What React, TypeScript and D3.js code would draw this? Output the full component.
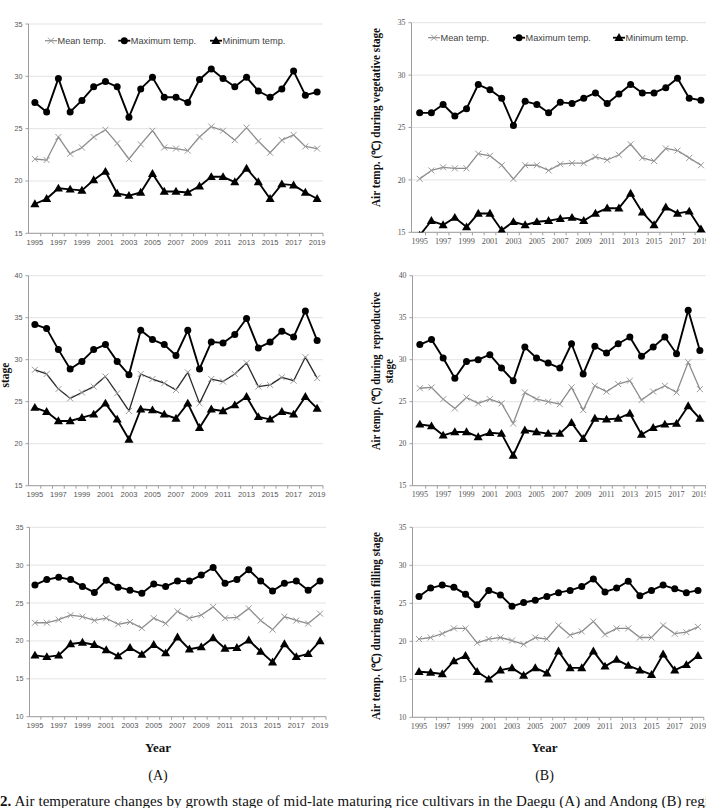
import React from 'react';
import * as d3 from 'd3';

const YEARS = [1995, 1996, 1997, 1998, 1999, 2000, 2001, 2002, 2003, 2004, 2005, 2006, 2007, 2008, 2009, 2010, 2011, 2012, 2013, 2014, 2015, 2016, 2017, 2018, 2019];
const YEAR_TICKS = [1995, 1997, 1999, 2001, 2003, 2005, 2007, 2009, 2011, 2013, 2015, 2017, 2019];

// Daegu (A)
const DAEGU_VEG_MEAN = [22.1, 22.0, 24.2, 22.6, 23.2, 24.2, 24.9, 23.6, 22.1, 23.5, 24.8, 23.2, 23.1, 22.9, 24.2, 25.2, 24.8, 23.9, 25.1, 23.8, 22.7, 23.9, 24.4, 23.3, 23.1];
const DAEGU_VEG_MAX = [27.5, 26.6, 29.8, 26.6, 27.7, 29.0, 29.5, 29.0, 26.1, 28.8, 29.9, 28.0, 28.0, 27.5, 29.7, 30.7, 29.8, 29.0, 29.9, 28.6, 28.0, 28.8, 30.5, 28.2, 28.5];
const DAEGU_VEG_MIN = [17.8, 18.3, 19.3, 19.2, 19.1, 20.1, 20.9, 18.8, 18.6, 18.9, 20.7, 19.0, 19.0, 18.9, 19.5, 20.4, 20.4, 19.9, 21.2, 19.9, 18.3, 19.7, 19.6, 18.9, 18.3];

const DAEGU_REP_MEAN = [28.8, 28.3, 26.5, 25.4, 26.1, 26.8, 28.0, 26.0, 23.9, 28.3, 27.7, 27.2, 26.4, 28.5, 24.8, 27.7, 27.4, 28.3, 29.6, 26.8, 27.0, 27.9, 27.5, 30.3, 27.8];
const DAEGU_REP_MAX = [34.2, 33.7, 31.2, 28.9, 29.8, 31.2, 31.8, 29.8, 28.2, 33.5, 32.4, 31.8, 30.5, 33.5, 28.9, 32.1, 32.0, 33.0, 34.9, 31.4, 32.1, 33.4, 32.7, 35.8, 32.3];
const DAEGU_REP_MIN = [24.3, 23.8, 22.7, 22.7, 23.1, 23.5, 24.8, 22.9, 20.5, 24.1, 24.0, 23.5, 23.0, 24.8, 21.9, 24.1, 23.9, 24.6, 25.6, 23.2, 22.9, 23.8, 23.5, 25.6, 24.2];

const DAEGU_GF_MEAN = [22.4, 22.4, 22.8, 23.4, 23.2, 22.7, 23.0, 22.2, 22.5, 21.7, 23.0, 22.3, 23.9, 23.0, 23.4, 24.5, 23.0, 23.1, 24.3, 22.7, 21.5, 23.2, 22.7, 22.3, 23.6];
const DAEGU_GF_MAX = [27.4, 28.1, 28.4, 28.1, 27.2, 26.4, 28.0, 27.1, 26.7, 26.3, 27.5, 27.2, 27.9, 27.9, 28.7, 29.7, 27.6, 28.1, 29.4, 27.9, 26.6, 27.6, 27.9, 26.7, 27.9];
const DAEGU_GF_MIN = [18.1, 17.9, 18.1, 19.6, 19.8, 19.5, 18.8, 18.0, 19.1, 18.2, 19.5, 18.4, 20.5, 18.9, 19.2, 20.4, 19.0, 19.1, 20.1, 18.6, 17.2, 19.6, 17.9, 18.3, 20.0];

// Andong (B)
const ANDONG_VEG_MEAN = [20.1, 20.9, 21.2, 21.1, 21.1, 22.5, 22.3, 21.4, 20.1, 21.4, 21.4, 20.9, 21.5, 21.6, 21.6, 22.2, 21.9, 22.4, 23.4, 22.1, 21.8, 23.0, 22.8, 22.1, 21.4];
const ANDONG_VEG_MAX = [26.4, 26.4, 27.2, 26.1, 26.8, 29.1, 28.6, 27.8, 25.2, 27.5, 27.2, 26.4, 27.4, 27.3, 27.8, 28.3, 27.3, 28.2, 29.1, 28.3, 28.3, 28.8, 29.7, 27.8, 27.6];
const ANDONG_VEG_MIN = [14.7, 16.1, 15.7, 16.4, 15.5, 16.8, 16.8, 15.2, 16.0, 15.7, 16.0, 16.1, 16.3, 16.4, 16.1, 16.8, 17.3, 17.3, 18.7, 16.9, 15.7, 17.4, 16.8, 17.0, 15.3];

const ANDONG_REP_MEAN = [26.6, 26.7, 25.3, 24.2, 25.5, 24.8, 25.3, 24.8, 22.4, 26.1, 25.3, 25.0, 24.7, 26.7, 24.0, 26.9, 26.2, 27.1, 27.5, 25.2, 26.2, 26.9, 26.1, 29.7, 26.5];
const ANDONG_REP_MAX = [31.8, 32.4, 30.2, 27.8, 29.8, 30.0, 30.6, 29.0, 27.5, 31.5, 30.2, 29.6, 29.0, 31.9, 28.3, 31.6, 30.8, 31.9, 32.7, 30.4, 31.5, 32.7, 30.7, 35.9, 31.1];
const ANDONG_REP_MIN = [22.3, 22.1, 21.0, 21.4, 21.4, 20.8, 21.3, 21.2, 18.6, 21.6, 21.4, 21.2, 21.2, 22.5, 20.6, 23.0, 22.9, 23.0, 23.6, 21.1, 21.9, 22.3, 22.4, 24.5, 23.0];

const ANDONG_GF_MEAN = [20.3, 20.5, 21.0, 21.7, 21.7, 19.8, 20.3, 20.5, 20.1, 19.6, 20.5, 20.3, 22.1, 20.8, 21.3, 22.6, 20.9, 21.7, 21.7, 20.5, 20.5, 22.1, 21.0, 21.2, 21.9];
const ANDONG_GF_MAX = [25.9, 27.0, 27.4, 27.1, 26.2, 24.8, 26.7, 26.1, 24.6, 25.1, 25.4, 25.9, 26.4, 26.7, 27.2, 28.2, 26.5, 27.0, 27.9, 26.0, 26.7, 27.4, 26.9, 26.4, 26.7];
const ANDONG_GF_MIN = [16.0, 15.9, 15.7, 17.4, 18.1, 16.0, 15.0, 16.2, 16.5, 15.5, 16.5, 15.8, 18.7, 16.5, 16.5, 18.7, 16.7, 17.6, 16.8, 16.2, 15.6, 18.3, 16.2, 16.9, 18.1];

const LEGEND_LABELS = ['Mean temp.', 'Maximum temp.', 'Minimum temp.'];
const CAPTION_NUM = '2.';
const CAPTION_TEXT = ' Air temperature changes by growth stage of mid-late maturing rice cultivars in the Daegu (A) and Andong (B) regions.';

type Legend = { y: number; xs: number[] };
type Title = { lines: string[]; x: number; y: number; length: number[] };

interface PanelSpec {
  id: string;
  mean: number[];
  max: number[];
  min: number[];
  yDomain: [number, number];
  yTicks: number[];
  axisX: number;
  bandStart: number;
  bandEnd: number;
  yTop: number;
  yBottom: number;
  serif: boolean;
  meanLine: string;
  legend?: Legend;
  title?: Title;
}

const PANELS: PanelSpec[] = [
  {
    id: 'a1', mean: DAEGU_VEG_MEAN, max: DAEGU_VEG_MAX, min: DAEGU_VEG_MIN,
    yDomain: [15, 35], yTicks: [15, 20, 25, 30, 35],
    axisX: 28.5, bandStart: 29, bandEnd: 323, yTop: 24, yBottom: 233.3,
    serif: false, meanLine: '#8c8c8c',
    legend: { y: 40.7, xs: [45, 118.3, 210] },
  },
  {
    id: 'a2', mean: DAEGU_REP_MEAN, max: DAEGU_REP_MAX, min: DAEGU_REP_MIN,
    yDomain: [15, 40], yTicks: [15, 20, 25, 30, 35, 40],
    axisX: 28.5, bandStart: 29, bandEnd: 323, yTop: 275.7, yBottom: 485.7,
    serif: false, meanLine: '#2a2a2a',
  },
  {
    id: 'a3', mean: DAEGU_GF_MEAN, max: DAEGU_GF_MAX, min: DAEGU_GF_MIN,
    yDomain: [10, 35], yTicks: [10, 15, 20, 25, 30, 35],
    axisX: 29.5, bandStart: 29, bandEnd: 326, yTop: 527.3, yBottom: 716.7,
    serif: false, meanLine: '#8c8c8c',
  },
  {
    id: 'b1', mean: ANDONG_VEG_MEAN, max: ANDONG_VEG_MAX, min: ANDONG_VEG_MIN,
    yDomain: [15, 35], yTicks: [15, 20, 25, 30, 35],
    axisX: 411.5, bandStart: 413.8, bandEnd: 706.8, yTop: 22.7, yBottom: 232.3,
    serif: true, meanLine: '#8c8c8c',
    legend: { y: 37.7, xs: [428, 513, 613] },
    title: { lines: ['Air temp. (\u2103) during vegetative stage'], x: 376, y: 117.5, length: [179] },
  },
  {
    id: 'b2', mean: ANDONG_REP_MEAN, max: ANDONG_REP_MAX, min: ANDONG_REP_MIN,
    yDomain: [15, 40], yTicks: [15, 20, 25, 30, 35, 40],
    axisX: 412.5, bandStart: 414, bandEnd: 705.7, yTop: 275.7, yBottom: 485.7,
    serif: true, meanLine: '#8c8c8c',
    title: { lines: ['Air temp. (\u2103) during  reproductive', 'stage'], x: 376, y: 371, length: [158, 24] },
  },
  {
    id: 'b3', mean: ANDONG_GF_MEAN, max: ANDONG_GF_MAX, min: ANDONG_GF_MIN,
    yDomain: [10, 35], yTicks: [10, 15, 20, 25, 30, 35],
    axisX: 412.5, bandStart: 413.2, bandEnd: 703.8, yTop: 527.3, yBottom: 717.3,
    serif: true, meanLine: '#8c8c8c',
    title: { lines: ['Air temp. (\u2103) during grain filling stage'], x: 376, y: 626, length: [188] },
  },
];

const SANS = '"Liberation Sans", Arial, sans-serif';
const SERIF = '"Liberation Serif", "Times New Roman", serif';

const triangle = d3.symbol(d3.symbolTriangle, 36)() as string;

function Marker({ kind, x, y }: { kind: 'mean' | 'max' | 'min'; x: number; y: number }) {
  if (kind === 'max') return <circle cx={x} cy={y} r={3.5} fill="#000" />;
  if (kind === 'min') return <path d={triangle} transform={`translate(${x},${y + 0.6})`} fill="#000" />;
  const s = 3;
  return (
    <path
      d={`M${x - s},${y - s}L${x + s},${y + s}M${x - s},${y + s}L${x + s},${y - s}`}
      stroke="#9a9a9a"
      strokeWidth={1}
      fill="none"
    />
  );
}

function Panel({ p }: { p: PanelSpec }) {
  const x = d3.scaleBand<number>().domain(YEARS).range([p.bandStart, p.bandEnd]).padding(0);
  const cx = (yr: number) => (x(yr) as number) + x.bandwidth() / 2;
  const y = d3.scaleLinear().domain(p.yDomain).range([p.yBottom, p.yTop]);
  const line = d3
    .line<number>()
    .x((_, i) => cx(YEARS[i]))
    .y((v) => y(v));
  const tickFont = p.serif ? SERIF : SANS;
  const right = p.bandEnd;
  const clipId = `clip-${p.id}`;

  const series: { kind: 'mean' | 'max' | 'min'; values: number[]; color: string; width: number }[] = [
    { kind: 'mean', values: p.mean, color: p.meanLine, width: 1.3 },
    { kind: 'max', values: p.max, color: '#000', width: 1.9 },
    { kind: 'min', values: p.min, color: '#000', width: 1.9 },
  ];

  return (
    <g>
      <defs>
        <clipPath id={clipId}>
          <rect x={p.axisX} y={p.yTop - 12} width={right - p.axisX + 10} height={p.yBottom - p.yTop + 12.3} />
        </clipPath>
      </defs>
      {/* horizontal gridlines */}
      {p.yTicks.map((t) => (
        <line key={`g${t}`} x1={p.axisX} x2={right} y1={y(t)} y2={y(t)} stroke="#e3e3e3" strokeWidth={1} />
      ))}
      {/* y axis */}
      <line x1={p.axisX} x2={p.axisX} y1={p.yTop} y2={p.yBottom} stroke="#9e9e9e" strokeWidth={1} />
      {p.yTicks.map((t) => (
        <g key={`yt${t}`}>
          <line x1={p.axisX - 3} x2={p.axisX} y1={y(t)} y2={y(t)} stroke="#9e9e9e" />
          <text
            x={p.axisX - 6}
            y={y(t)}
            dy="0.35em"
            textAnchor="end"
            fontFamily={tickFont}
            fontSize={p.serif ? 7.8 : 7.2}
            fill="#555"
          >
            {t}
          </text>
        </g>
      ))}
      {/* x axis */}
      <line x1={p.axisX} x2={right} y1={p.yBottom} y2={p.yBottom} stroke="#9e9e9e" strokeWidth={1} />
      {YEARS.map((yr) => (
        <line
          key={`xt${yr}`}
          x1={(x(yr) as number) + x.bandwidth()}
          x2={(x(yr) as number) + x.bandwidth()}
          y1={p.yBottom}
          y2={p.yBottom + 3}
          stroke="#9e9e9e"
        />
      ))}
      {YEAR_TICKS.map((yr) => (
        <text
          key={`xl${yr}`}
          x={cx(yr)}
          y={p.yBottom + 11.5}
          textAnchor="middle"
          fontFamily={tickFont}
          fontSize={p.serif ? 8.2 : 7.6}
          fill="#555"
        >
          {yr}
        </text>
      ))}
      {/* series */}
      <g clipPath={`url(#${clipId})`}>
        {series.map((s) => (
          <path key={`l${s.kind}`} d={line(s.values) as string} fill="none" stroke={s.color} strokeWidth={s.width} strokeLinejoin="round" />
        ))}
        {series.map((s) =>
          s.values.map((v, i) => <Marker key={`${s.kind}${i}`} kind={s.kind} x={cx(YEARS[i])} y={y(v)} />)
        )}
      </g>
      {/* legend */}
      {p.legend &&
        (['mean', 'max', 'min'] as const).map((k, i) => {
          const lx = p.legend!.xs[i];
          const ly = p.legend!.y;
          return (
            <g key={`lg${k}`}>
              <line x1={lx} x2={lx + 12} y1={ly} y2={ly} stroke={k === 'mean' ? '#8c8c8c' : '#000'} strokeWidth={k === 'mean' ? 1.2 : 1.8} />
              <Marker kind={k} x={lx + 6} y={ly} />
              <text x={lx + 12.5} y={ly} dy="0.35em" fontFamily={SANS} fontSize={9.2} fill="#404040">
                {LEGEND_LABELS[i]}
              </text>
            </g>
          );
        })}
      {/* y title */}
      {p.title &&
        p.title.lines.map((ln, i) => (
          <text
            key={`tt${i}`}
            transform={`translate(${p.title!.x + i * 12.5},${p.title!.y}) rotate(-90)`}
            textAnchor="middle"
            dy="0.35em"
            fontFamily={SERIF}
            fontWeight="bold"
            fontSize={11.5}
            fill="#111"
            textLength={p.title!.length[i]}
            lengthAdjust="spacingAndGlyphs"
            style={{ whiteSpace: 'pre' }}
          >
            {ln}
          </text>
        ))}
    </g>
  );
}

export default function App() {
  return (
    <svg
      width={706}
      height={808}
      viewBox="0 0 706 808"
      style={{ position: 'absolute', left: 0, top: 0, background: '#fff' }}
    >
      <rect width={706} height={808} fill="#fff" />
      {PANELS.map((p) => (
        <Panel key={p.id} p={p} />
      ))}
      {/* partial axis title on the left edge */}
      <text
        transform="translate(4.5,375) rotate(-90)"
        textAnchor="middle"
        dy="0.35em"
        fontFamily={SERIF}
        fontWeight="bold"
        fontSize={11.5}
        fill="#111"
      >
        stage
      </text>
      <text x={158} y={752} textAnchor="middle" fontFamily={SERIF} fontWeight="bold" fontSize={13} fill="#111">
        Year
      </text>
      <text x={544.5} y={752} textAnchor="middle" fontFamily={SERIF} fontWeight="bold" fontSize={13} fill="#111">
        Year
      </text>
      <text x={158} y={780} textAnchor="middle" fontFamily={SERIF} fontSize={14} fill="#111">
        (A)
      </text>
      <text x={544.5} y={780} textAnchor="middle" fontFamily={SERIF} fontSize={14} fill="#111">
        (B)
      </text>
      <text x={0} y={806} fontFamily={SERIF} fontSize={15} fill="#111" wordSpacing={0.3} style={{ whiteSpace: 'pre' }}>
        <tspan fontWeight="bold">{CAPTION_NUM}</tspan>
        <tspan>{CAPTION_TEXT}</tspan>
      </text>
    </svg>
  );
}
